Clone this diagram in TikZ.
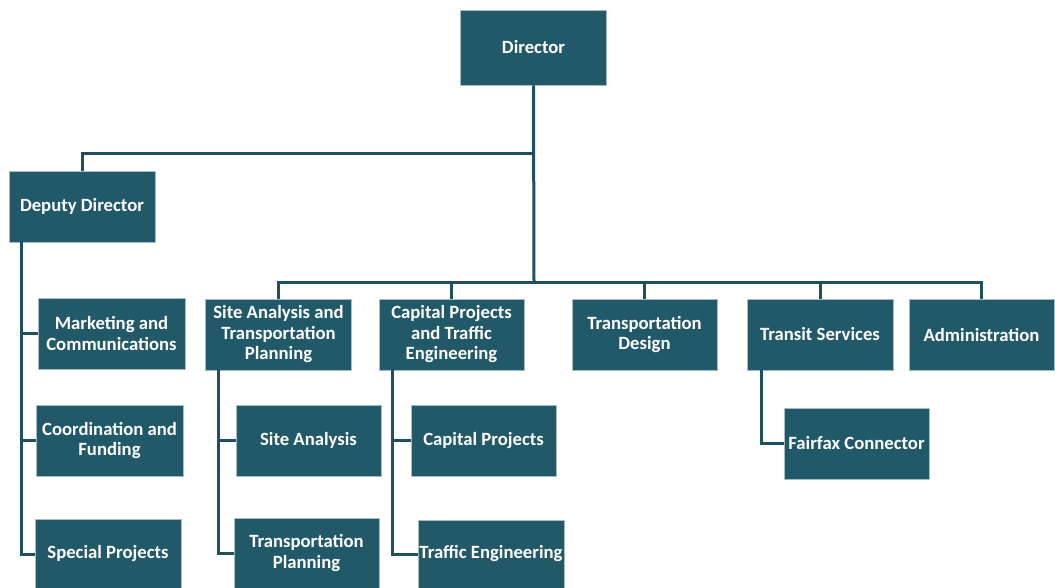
\documentclass[tikz,border=0pt]{standalone}
\usepackage{fontspec}
\setmainfont{Carlito}
\definecolor{boxfill}{HTML}{215968}
\definecolor{boxedge}{HTML}{A3BEC6}
\definecolor{linecol}{HTML}{1F5060}
\begin{document}
\begin{tikzpicture}[x=1pt,y=-1pt,
  box/.style={draw=boxedge, line width=0.8pt, fill=boxfill, text=white,
    font=\fontsize{18.7}{20.5}\selectfont\bfseries, align=center,
    inner sep=0pt, minimum width=146pt, minimum height=71pt},
  conn/.style={draw=linecol, line width=3pt}]
\useasboundingbox (0,0) rectangle (1055,588);
% boxes
\node[box, minimum height=75pt] (dir) at (533.5,47.5) {Director};
\node[box] (dep) at (82,206.5) {Deputy Director};
\node[box, minimum width=147pt] (mkt) at (111.5,333.5) {Marketing and\\Communications};
\node[box, minimum width=147pt] (coo) at (109.5,440.5) {Coordination and\\Funding};
\node[box, minimum height=70pt] (spc) at (108,554) {Special Projects};
\node[box] (sat) at (278.5,334.5) {Site Analysis and\\Transportation\\Planning};
\node[box, minimum width=145pt] (cpt) at (451.5,334.5) {Capital Projects\\and Traffic\\Engineering};
\node[box, minimum width=145pt] (tde) at (644.5,334.5) {Transportation\\Design};
\node[box] (trs) at (820,334.5) {Transit Services};
\node[box, minimum width=145pt] (adm) at (981.5,334.5) {Administration};
\node[box, minimum width=145pt] (sa) at (308.5,440.5) {Site Analysis};
\node[box, minimum width=145pt, minimum height=70pt] (tp) at (306.5,553) {Transportation\\Planning};
\node[box, minimum width=145pt] (cp) at (483.5,440.5) {Capital Projects};
\node[box, minimum height=68pt] (te) at (491,554) {Traffic Engineering};
\node[box, minimum width=145pt] (ffx) at (856.5,443.5) {Fairfax Connector};
% junctions
\coordinate (j1) at (534,154);
\coordinate (j2) at (534,282);
\coordinate (d0) at ([xshift=13pt]dep.south west);
\coordinate (s0) at ([xshift=13pt]sat.south west);
\coordinate (c0) at ([xshift=14pt]cpt.south west);
\coordinate (t0) at ([xshift=15pt]trs.south west);
% connectors
\draw[conn] (dir.south) -- (j2);
\draw[conn] (j1) -| (dep.north);
\draw[conn] (sat.north) |- (j2) -| (adm.north);
\draw[conn] (cpt.north) -- (cpt.north |- j2);
\draw[conn] (tde.north) -- (tde.north |- j2);
\draw[conn] (trs.north) -- (trs.north |- j2);
\draw[conn] (d0) |- (mkt.west);
\draw[conn] (d0) |- (coo.west);
\draw[conn] (d0) |- (spc.west);
\draw[conn] (s0) |- (sa.west);
\draw[conn] (s0) |- (tp.west);
\draw[conn] (c0) |- (cp.west);
\draw[conn] (c0) |- (te.west);
\draw[conn] (t0) |- (ffx.west);
\end{tikzpicture}
\end{document}
